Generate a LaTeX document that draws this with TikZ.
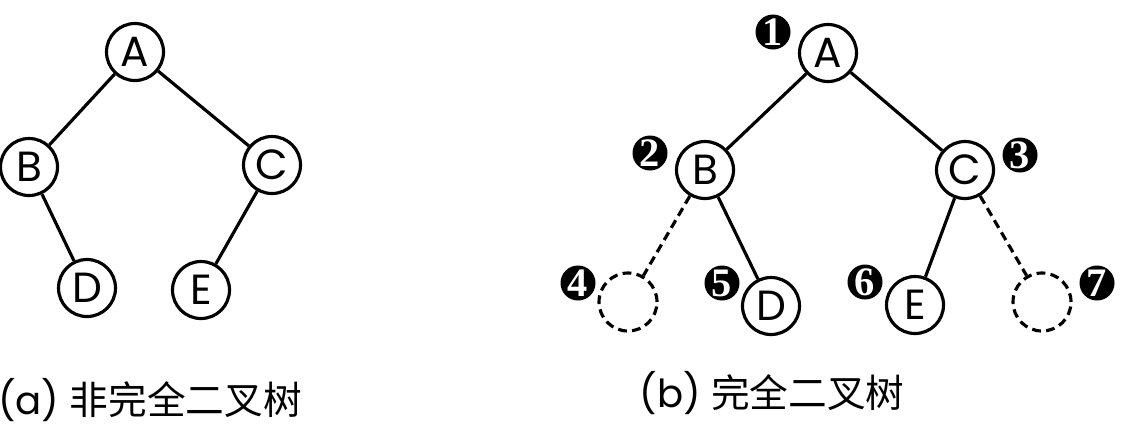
\documentclass[tikz,border=0pt]{standalone}
\usepackage{fontspec}
\setmainfont{Poppins}
\newfontfamily\cjk{Noto Sans CJK SC}
\newfontfamily\numfont{Liberation Serif}
\usepackage{tikz}
\usetikzlibrary{positioning}
\tikzset{
  tnode/.style={circle, draw, line width=0.9pt, minimum size=0.57cm, inner sep=0pt, font=\fontsize{12}{12}\selectfont},
  hole/.style={circle, draw, line width=0.9pt, dash pattern=on 2.5pt off 1.5pt, minimum size=0.58cm, inner sep=0pt},
  link/.style={line width=0.9pt},
  dlink/.style={line width=0.9pt, dash pattern=on 2.5pt off 1.5pt},
  badge/.style={circle, fill=black, text=white, minimum size=0.35cm, inner sep=0pt, font=\numfont\bfseries\fontsize{11.5}{11.5}\selectfont},
  caption/.style={font=\fontsize{11}{11}\selectfont},
}

\begin{document}
\begin{tikzpicture}
  \useasboundingbox (0,0) rectangle (11.24,4.32);
  \node[tnode] (la) at (1.35, 3.80) {A};
  \node[tnode] (lb) at (0.29, 2.65) {B};
  \node[tnode] (lc) at (2.72, 2.67) {C};
  \node[tnode] (ld) at (0.87, 1.44) {D};
  \node[tnode] (le) at (2.01, 1.42) {E};
  \draw[link] (la) -- (lb);
  \draw[link] (la) -- (lc);
  \draw[link] (lb) -- (ld);
  \draw[link] (lc) -- (le);
  \node[caption] (capa) at (1.50, 0.32) {(a) {\cjk 非完全二叉树}};

  \node[tnode] (ra) at (8.28, 3.79) {A};
  \node[tnode] (rb) at (7.05, 2.62) {B};
  \node[tnode] (rc) at (9.65, 2.62) {C};
  \node[hole] (rh4) at (6.28, 1.30) {};
  \node[tnode] (rd) at (7.71, 1.26) {D};
  \node[tnode] (re) at (9.15, 1.27) {E};
  \node[hole] (rh7) at (10.42, 1.30) {};
  \draw[link] (ra) -- (rb);
  \draw[link] (ra) -- (rc);
  \draw[dlink] (rb) -- (rh4);
  \draw[link] (rb) -- (rd);
  \draw[link] (rc) -- (re);
  \draw[dlink] (rc) -- (rh7);
  \foreach \i/\x/\y in {1/7.73/4.00, 2/6.50/2.79, 3/10.20/2.77, 4/5.78/1.49, 5/7.22/1.49, 6/8.65/1.50, 7/10.97/1.49} {
    \node[badge] (n\i) at (\x, \y) {\i};
  }
  \node[caption] (capb) at (7.72, 0.39) {(b) {\cjk 完全二叉树}};
\end{tikzpicture}
\end{document}
